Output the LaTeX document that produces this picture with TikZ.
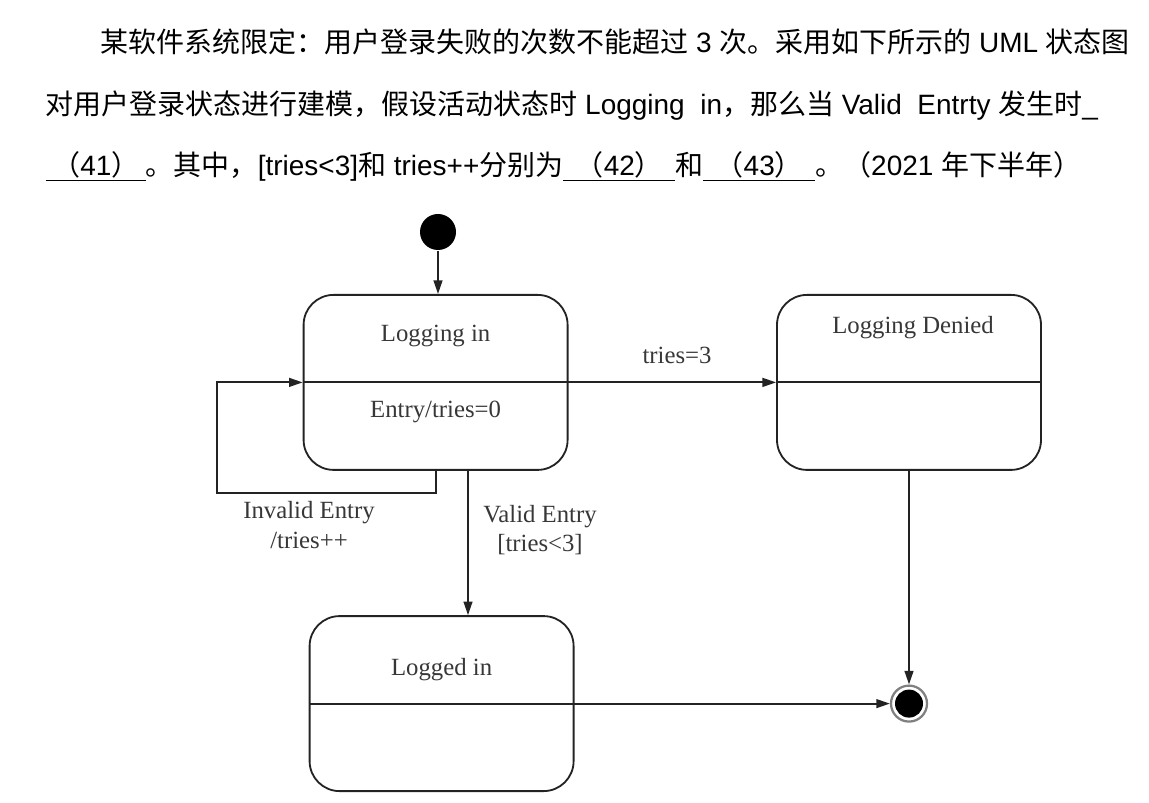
\documentclass[tikz,border=0pt]{standalone}
\usepackage{fontspec}
\setmainfont{Liberation Sans}
\newfontfamily\cjk{Noto Sans CJK SC}
\newfontfamily\umlfont{Liberation Serif}
\usetikzlibrary{arrows.meta,positioning}
\definecolor{LineDark}{RGB}{35,35,35}
\definecolor{LabelGray}{RGB}{55,55,55}

\begin{document}
\begin{tikzpicture}[
    line width=1.3pt,
    state/.style={draw=LineDark, rounded corners=0.75cm, minimum width=6.6cm, minimum height=4.375cm, inner sep=0pt},
    txt/.style={font=\umlfont\fontsize{17.6}{21}\selectfont, text=LabelGray, inner sep=0pt},
    trans/.style={draw=LineDark, -{Triangle[length=3.4mm,width=2.2mm]}},
    hd/.style={anchor=base west, inner sep=0pt, font=\fontsize{19.9}{24}\selectfont}
  ]
  \useasboundingbox (0,0) rectangle (28.725,-20.075);
  \node[hd] (h1) at (2.5,-1.325) {{\cjk 某软件系统限定：用户登录失败的次数不能超过} 3 {\cjk 次。采用如下所示的} UML {\cjk 状态图}};
  \node[hd] (h2) at (1.125,-2.875) {{\cjk 对用户登录状态进行建模，假设活动状态时} Logging\ \ in{\cjk ，那么当} Valid\ \ Entrty {\cjk 发生时}\_};
  \node[hd] (h3) at (1.125,-4.4) {\underline{\makebox[2.5cm]{{\cjk （}41{\cjk ）}}}{\cjk 。其中，}[tries<3]{\cjk 和} tries++{\cjk 分别为}\underline{\makebox[2.8cm]{{\cjk （}42{\cjk ）}}}{\cjk 和}\underline{\makebox[2.8cm]{{\cjk （}43{\cjk ）}}}{\cjk 。（}2021 {\cjk 年下半年）}};

  \node[state] (li) at (10.89,-9.56) {};
  \node[state] (ld) at (22.725,-9.56) {};
  \node[state] (lg) at (11.04,-17.59) {};
  \node[circle, fill=black, minimum size=0.9cm, inner sep=0pt] (init) at (10.95,-5.8) {};
  \node[circle, draw=gray, line width=1.6pt, minimum size=0.9cm, inner sep=0pt] (fin) at (ld |- lg) {};
  \node[circle, fill=black, minimum size=0.7cm, inner sep=0pt] (fin-dot) at (fin) {};

  \node[txt] (li-name) at ([yshift=1.15cm]li.center) {Logging in};
  \node[txt] (li-entry) at ([yshift=-0.73cm]li.center) {Entry/tries=0};
  \node[txt] (ld-name) at ([xshift=0.1cm, yshift=1.38cm]ld.center) {Logging Denied};
  \node[txt] (lg-name) at ([yshift=0.84cm]lg.center) {Logged in};

  \draw[LineDark] (li.west) -- (li.east);
  \draw[LineDark] (ld.west) -- (ld.east);
  \draw[LineDark] (lg.west) -- (lg.east);

  \coordinate (ve) at ([xshift=0.81cm]li.south);
  \draw[trans] (init) -- (init |- li.north);
  \draw[trans] (li.east) -- (ld.west);
  \draw[trans] (li.south) -- ++(0,-0.55) -| ([xshift=-2.15cm]li.west) -- (li.west);
  \draw[trans] (ve) -- (ve |- lg.north);
  \draw[trans] (ld.south) -- (fin.north);
  \draw[trans] (lg.east) -- (fin.west);

  \node[txt] (t3) at (16.925,-8.875) {tries=3};
  \node[txt, align=center] (inv) at (7.725,-13.125) {Invalid Entry\\/tries++};
  \node[txt, align=center] (val) at (13.5,-13.25) {Valid Entry\\{}[tries<3]};
\end{tikzpicture}
\end{document}
